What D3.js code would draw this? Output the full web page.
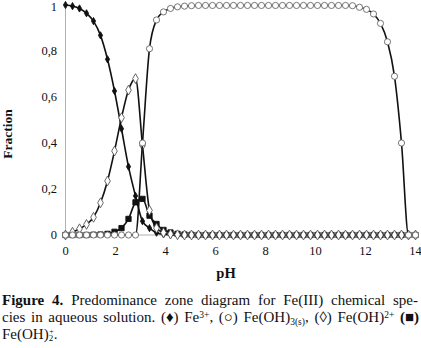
<!DOCTYPE html>
<html lang="en">
<head>
<meta charset="UTF-8">
<script src="https://d3js.org/d3.v7.min.js"></script>
<title>Fe(III) predominance</title>
<style>
  body { margin: 0; background: #fff; }
  svg text { font-family: "Liberation Serif", "Times New Roman", serif; fill: #111; }
</style>
</head>
<body>
<svg id="chart" width="421" height="348"></svg>
<script>
// pH steps (0..14 in 50 steps)
const pH = [0, 0.28, 0.56, 0.84, 1.12, 1.4, 1.68, 1.96, 2.24, 2.52, 2.8, 3.08, 3.36, 3.64, 3.92,
  4.2, 4.48, 4.76, 5.04, 5.32, 5.6, 5.88, 6.16, 6.44, 6.72, 7, 7.28, 7.56, 7.84, 8.12, 8.4,
  8.68, 8.96, 9.24, 9.52, 9.8, 10.08, 10.36, 10.64, 10.92, 11.2, 11.48, 11.76, 12.04, 12.32,
  12.6, 12.88, 13.16, 13.44, 13.72, 14];

// Fe3+ (filled diamonds)
const fe3 = [1, 0.995, 0.985, 0.964, 0.93, 0.868, 0.764, 0.626, 0.462, 0.297, 0.17, 0.06, 0.03, 0.01, 0.003,
  0.001, 0, 0, 0, 0, 0, 0, 0, 0, 0, 0, 0, 0, 0, 0, 0, 0, 0, 0, 0, 0, 0, 0, 0, 0, 0, 0, 0, 0, 0,
  0, 0, 0, 0, 0, 0];
// Fe(OH)2+ (open diamonds)
const feOH = [0, 0.012, 0.027, 0.046, 0.077, 0.14, 0.235, 0.365, 0.51, 0.63, 0.68, 0.39, 0.107, 0.03, 0.01,
  0.004, 0.001, 0, 0, 0, 0, 0, 0, 0, 0, 0, 0, 0, 0, 0, 0, 0, 0, 0, 0, 0, 0, 0, 0, 0, 0, 0, 0, 0, 0,
  0, 0, 0, 0, 0, 0];
// Fe(OH)2+ (filled squares)
const feOH2 = [0, 0, 0, 0, 0.001, 0.002, 0.005, 0.014, 0.03, 0.07, 0.142, 0.157, 0.084, 0.048, 0.022,
  0.011, 0.005, 0.002, 0.001, 0, 0, 0, 0, 0, 0, 0, 0, 0, 0, 0, 0, 0, 0, 0, 0, 0, 0, 0, 0, 0, 0, 0, 0, 0, 0,
  0, 0, 0, 0, 0, 0];
// Fe(OH)3(s) (open circles)
const feOH3 = [0, 0, 0, 0, 0, 0, 0, 0, 0, 0, 0, 0.40, 0.81, 0.935, 0.97,
  0.985, 0.992, 0.995, 0.997, 0.998, 0.998, 0.998, 0.998, 0.998, 0.998, 0.998, 0.998, 0.998, 0.998, 0.998, 0.998,
  0.998, 0.998, 0.998, 0.998, 0.998, 0.998, 0.998, 0.998, 0.998, 0.998, 0.997, 0.99, 0.981, 0.961,
  0.92, 0.84, 0.69, 0.40, 0, 0];

const xTicks = [0, 2, 4, 6, 8, 10, 12, 14];
const yTicks = [0, 0.2, 0.4, 0.6, 0.8, 1];

const svg = d3.select("#chart");
const x = d3.scaleLinear().domain([0, 14]).range([65.5, 415.5]);
const y = d3.scaleLinear().domain([0, 1]).range([235, 5]);

// axes lines (gray, no ticks)
svg.append("line").attr("x1", x(0)).attr("x2", x(0)).attr("y1", y(1)).attr("y2", y(0))
  .attr("stroke", "#b0b0b0").attr("stroke-width", 1);
svg.append("line").attr("x1", x(0)).attr("x2", x(14)).attr("y1", y(0)).attr("y2", y(0))
  .attr("stroke", "#b0b0b0").attr("stroke-width", 1);

svg.selectAll("text.ytick").data(yTicks).join("text")
  .attr("class", "ytick")
  .attr("x", 57).attr("y", d => Math.max(y(d) + 4, 11))
  .attr("text-anchor", "end").attr("font-size", 12.5)
  .text(d => String(d).replace(".", ","));

svg.selectAll("text.xtick").data(xTicks).join("text")
  .attr("class", "xtick")
  .attr("x", d => x(d)).attr("y", 255)
  .attr("text-anchor", "middle").attr("font-size", 12.5)
  .text(d => d);

svg.append("text").attr("transform", "translate(12,134) rotate(-90)")
  .attr("text-anchor", "middle").attr("font-size", 13.5).attr("font-weight", "bold")
  .text("Fraction");
svg.append("text").attr("x", 226).attr("y", 278)
  .attr("text-anchor", "middle").attr("font-size", 14.5).attr("font-weight", "bold")
  .text("pH");

const line = d3.line().x(d => x(d[0])).y(d => y(d[1])).curve(d3.curveMonotoneX);

const series = [
  { vals: fe3, sym: d3.symbolDiamond, size: 15, fill: "#111", stroke: "#111" },
  { vals: feOH2, sym: d3.symbolSquare, size: 28, fill: "#111", stroke: "#111" },
  { vals: feOH, sym: d3.symbolDiamond, size: 28, fill: "#fff", stroke: "#555" },
  { vals: feOH3, sym: d3.symbolCircle, size: 30, fill: "#fff", stroke: "#666" }
];

series.forEach(s => {
  const pts = pH.map((p, i) => [p, s.vals[i]]);
  const g = svg.append("g");
  g.append("path").datum(pts).attr("d", line)
    .attr("fill", "none").attr("stroke", "#111").attr("stroke-width", 1.6);
  g.selectAll("path.m").data(pts).join("path")
    .attr("class", "m")
    .attr("transform", d => `translate(${x(d[0])},${y(d[1])})`)
    .attr("d", d3.symbol().type(s.sym).size(s.size))
    .attr("fill", s.fill).attr("stroke", s.stroke).attr("stroke-width", 0.9);
});

// caption
const cap = svg.append("g").attr("font-size", 15);
function justify(t, width) {
  const w = t.node().getComputedTextLength();
  const n = (t.text().match(/ /g) || []).length;
  if (n > 0) t.attr("word-spacing", (width - w) / n);
}
const l1 = cap.append("text").attr("x", 2).attr("y", 305);
l1.append("tspan").attr("font-weight", "bold").text("Figure 4.");
l1.append("tspan").text(" Predominance zone diagram for Fe(III) chemical spe-");
justify(l1, 416);

const l2 = cap.append("text").attr("x", 2).attr("y", 322);
l2.append("tspan").text("cies in aqueous solution. (\u2666) Fe");
l2.append("tspan").attr("font-size", 9.5).attr("dy", -4).text("3+");
l2.append("tspan").attr("dy", 4).text(", (\u25CB) Fe(OH)");
l2.append("tspan").attr("font-size", 9.5).attr("dy", 3).text("3(s)");
l2.append("tspan").attr("dy", -3).text(", (\u25CA) Fe(OH)");
l2.append("tspan").attr("font-size", 9.5).attr("dy", -4).text("2+");
l2.append("tspan").attr("dy", 4).text(" ");
l2.append("tspan").attr("font-weight", "bold").text("(\u25A0)");
justify(l2, 417);

const l3 = cap.append("text").attr("x", 2).attr("y", 339);
l3.append("tspan").text("Fe(OH)");
l3.append("tspan").attr("font-size", 9).attr("dy", 2).text("2");
l3.append("tspan").attr("font-size", 8).attr("dx", -4).attr("dy", -7).text("+");
l3.append("tspan").attr("dy", 5).text(".");
</script>
</body>
</html>
